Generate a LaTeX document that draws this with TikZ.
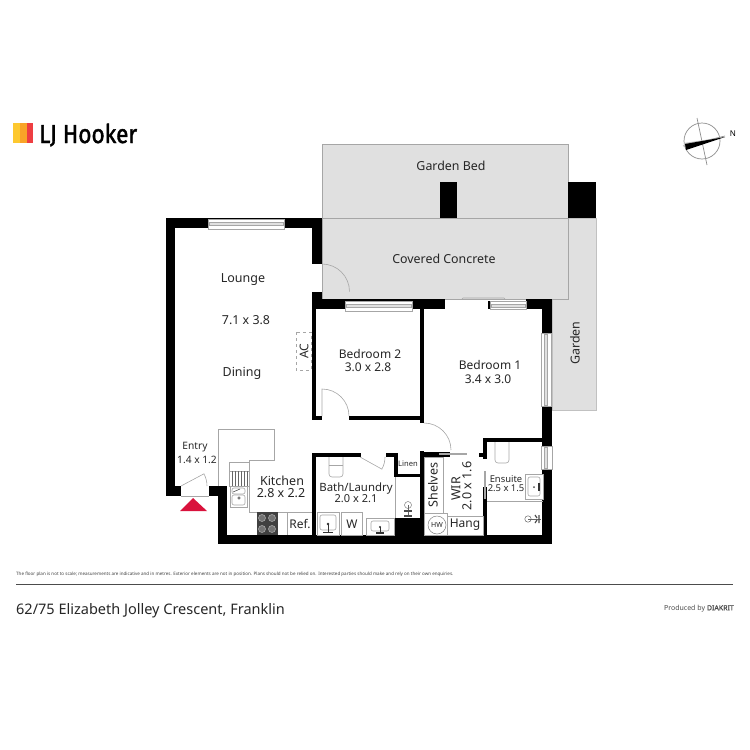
\documentclass[tikz,border=0pt]{standalone}
\usepackage{fontspec}
\setmainfont{Noto Sans}
\newfontfamily\logofont[FakeBold=1.6]{Fira Sans}
\newfontfamily\creditfont[FakeBold=1.2]{Noto Sans}
\definecolor{outdoor}{HTML}{E0E0E0}
\definecolor{edge}{HTML}{A6A6A6}
\definecolor{logored}{HTML}{EE3E42}
\definecolor{logoorange}{HTML}{F9A428}
\definecolor{logoyellow}{HTML}{FDC82F}
\definecolor{arrowred}{HTML}{D9123C}
\newcommand{\sz}[1]{\fontsize{#1}{#1}\selectfont}
\tikzset{
  room/.style={font=\sz{12.4},text=black!85,inner sep=0pt},
  roomb/.style={font=\sz{12},text=black!85,inner sep=0pt},
  roomc/.style={font=\sz{12.5},text=black!85,inner sep=0pt},
  roomd/.style={font=\sz{10.2},text=black!85,inner sep=0pt},
  roome/.style={font=\sz{9.4},text=black!85,inner sep=0pt},
  fixture/.style={draw=edge,line width=.6pt,fill=white},
  thin line/.style={draw=edge,line width=.6pt},
}
% horizontal and vertical window: x1 y1 x2 y2
\newcommand{\hwin}[4]{%
  \draw[fixture] (#1,#2) rectangle (#3,#4);
  \draw[draw=edge,fill=outdoor,line width=.4pt] (#1+1,#2+3) rectangle (#3-1,#2+6);
}
\newcommand{\vwin}[4]{%
  \draw[fixture] (#1,#2) rectangle (#3,#4);
  \draw[draw=edge,fill=outdoor,line width=.4pt] (#1+3,#2+1) rectangle (#1+6,#4-1);
}
\newcommand{\tap}[2]{%
  \draw[draw=black!60,line width=.5pt] (#1,#2) circle (3.2);
  \draw[draw=black!60,line width=.6pt] (#1,#2) -- (#1+13,#2);
  \draw[draw=black!70,line width=1.2pt] (#1+7,#2-4) -- (#1+9,#2-1) (#1+7,#2+4) -- (#1+9,#2+1) (#1+11,#2-4) -- (#1+11,#2+4);
}
\begin{document}
\begin{tikzpicture}[x=1pt, y=-1pt]
\useasboundingbox (0,0) rectangle (750,750);

% outdoor areas
\draw[draw=edge!70,fill=outdoor,line width=.5pt] (568,218) -- (596,218) -- (596,410) -- (552,410) -- (552,299) -- (568,299) -- cycle;
\draw[draw=edge,fill=outdoor,line width=.7pt] (322,144) rectangle (568,218);
\draw[draw=edge,fill=outdoor,line width=.7pt] (322,218) rectangle (568,299);
\draw[thin line] (462,299) -- (463,298) -- (504,298) -- (505,299);

% walls
\foreach \xa/\ya/\xb/\yb in {166/218/322/228, 166/218/175/496, 166/486/181/496, 312/218/322/264,
    312/292/322/309, 312/299/445/309, 312/292/316/420, 312/416/322/420, 349/416/424/420,
    420/299/424/423, 488/301/490/309, 526/299/552/309, 542/299/552/544, 209/486/227/496,
    218/486/227/544, 218/535/552/544, 312/453/316/535, 312/453/361/457, 386/453/398/457,
    394/453/398/477, 394/474/420/477, 394/518/420/535, 420/451/424/535, 420/452/450/457,
    479/453/483/457, 483/438/487/459, 483/438/543/442, 483/487/487/535,
    440/182/457/218, 568/182/596/218}
  \fill[black] (\xa,\ya) rectangle (\xb,\yb);

% windows
\hwin{208}{219}{284}{229}
\hwin{345}{301}{412}{311}
\hwin{490}{301}{526}{309}
\vwin{541}{333}{551}{406}
\vwin{541}{446}{552}{469}

% doors
\draw[thin line] (322,264) arc (270:360:27.5);
\draw[thin line] (322,416) -- (322,389) arc (270:360:27);
\draw[thin line] (424,423) arc (270:360:27);
\draw[thin line] (181,486) -- ++(-28:26) arc (-28:0:26);
\draw[thin line] (181,496) -- (209,496);
\draw[thin line] (360,457) -- ++(29:25) arc (29:0:25);
\draw[edge,line width=1.2pt] (439,454) -- (467,454);
\draw[edge,line width=1.2pt] (485,471) -- (485,499);

% entry arrow
\fill[arrowred] (180,511) -- (193,498) -- (207,511) -- cycle;

% kitchen
\draw[thin line] (218,486) -- (218,429) -- (274,429) -- (274,460) -- (249,460) -- (249,512) -- (312,512);
\draw[fixture] (229,462) rectangle (249,471);
\draw[fixture] (229,471) rectangle (249,486);
\foreach \x in {232,235,...,247}
  \draw[black!60,line width=.5pt] (\x,471) -- (\x,486);
\draw[fixture] (230,486) rectangle (247,507);
\draw[thin line,rounded corners=2pt] (232,488) rectangle (245,494);
\draw[thin line,rounded corners=2pt] (232,495) rectangle (245,505);
\draw[black!70,line width=.5pt] (239,498) circle (1.3);
\draw[black!70,line width=.6pt] (233,492) -- (240,489);
\fill[black!75] (257,512) rectangle (278,535);
\foreach \cx/\cy in {262/518, 272/518, 262/529, 272/529}
  \draw[black!35,fill=black!55,line width=.6pt] (\cx,\cy) circle (3.5);
\draw[thin line] (287,512) -- (287,535);

% bath and laundry
\draw[thin line,rounded corners=3pt] (329,457) -- (329,477) -- (343,477) -- (343,457);
\draw[thin line] (329,465) -- (343,465);
\draw[fixture] (317,512) rectangle (339,535);
\draw[thin line,rounded corners=2pt] (320,515) rectangle (336,530);
\fill[black!80] (328,524) circle (1.3);
\draw[black!80,line width=.6pt] (328,524) -- (328,532);
\draw[black!80,line width=1pt] (323,532) -- (333,532);
\draw[fixture] (341,512) rectangle (362,535);
\draw[fixture] (366,518) rectangle (394,535);
\draw[thin line,rounded corners=2pt] (371,521) rectangle (389,531);
\fill[black!80] (380,527) circle (1.2);
\draw[black!80,line width=.6pt] (380,527) -- (380,533);
\draw[black!80,line width=1.2pt] (376,533) -- (384,533);
\draw[thin line] (395,477) -- (395,518);
\draw[draw=black!50,line width=.5pt] (408,505) circle (3.5);
\draw[draw=black!60,line width=.7pt] (408,505) -- (408,517);
\draw[draw=black!70,line width=1.2pt] (404,511) -- (412,511) (404,516) -- (412,516);

% wir
\draw[fixture] (424,457) rectangle (443,513);
\draw[thin line] (424,513) rectangle (447,535);
\draw[fixture] (447,516) rectangle (483,535);
\draw[black!50,line width=.5pt] (437,525) circle (9);

% ensuite
\draw[thin line,rounded corners=3pt] (495,442) -- (495,463) -- (509,463) -- (509,442);
\draw[fixture] (525,474) rectangle (543,499);
\draw[thin line,rounded corners=2pt] (528,477) rectangle (540,496);
\draw[black!80,line width=1.1pt] (539,483) -- (539,491);
\fill[black!70] (534,487) circle (1);
\draw[thin line] (487,501) -- (543,501);
\tap{528}{519}

% ac unit
\draw[edge,dashed,line width=.6pt] (296,332) rectangle (311,370);
\node[roomb,rotate=90] (ac) at (304,351) {AC};

% room labels
\node[room] (gardenbed) at (451,165.5) {Garden Bed};
\node[room] (concrete) at (444,259) {Covered Concrete};
\node[room,rotate=90] (garden) at (575,343) {Garden};
\node[roomc] (lounge) at (243,280) {Lounge};
\node[room] (loungesize) at (246,320.5) {7.1 x 3.8};
\node[roomc] (dining) at (242,373) {Dining};
\node[roomb] (bedtwo) at (370,354) {Bedroom 2};
\node[roomb] (bedtwosize) at (368,367) {3.0 x 2.8};
\node[roomb] (bedone) at (490,365) {Bedroom 1};
\node[roomb] (bedonesize) at (488,379) {3.4 x 3.0};
\node[roomd] (entry) at (195,447.5) {Entry};
\node[roomd] (entrysize) at (197,460) {1.4 x 1.2};
\node[roomc] (kitchen) at (282,480.5) {Kitchen};
\node[roomc] (kitchensize) at (281,493) {2.8 x 2.2};
\node[font=\sz{11.4},text=black!85,inner sep=0pt] (bath) at (356,488.5) {Bath/Laundry};
\node[font=\sz{11},text=black!85,inner sep=0pt] (bathsize) at (356,498.5) {2.0 x 2.1};
\node[roomb] (ref) at (300,524) {Ref.};
\node[roomb] (washer) at (352,524) {W};
\node[font=\sz{7.6},text=black!85,inner sep=0pt] (linen) at (408,464) {Linen};
\node[roomc,rotate=90] (shelves) at (433,485) {Shelves};
\node[roomc,rotate=90] (wir) at (456,489) {WIR};
\node[roomc,rotate=90] (wirsize) at (467,486) {2.0 x 1.6};
\node[font=\sz{7},text=black!85,inner sep=0pt] (hw) at (437,525) {HW};
\node[roomb] (hang) at (465,525) {Hang};
\node[roome] (ensuite) at (506,479) {Ensuite};
\node[roome] (ensuitesize) at (506,488) {2.5 x 1.5};

% logo
\fill[logoyellow] (13,123) rectangle (20,143);
\fill[logoorange] (20,123) rectangle (26.5,143);
\fill[logored] (26.5,123) rectangle (33,143);
\node[inner sep=0pt,anchor=base west,font=\logofont\sz{26}] (logo) at (39,143) {\scalebox{.87}[1]{LJ Hooker}};

% compass
\draw[black!45,line width=.7pt] (702,141) circle (18);
\draw[black!45,line width=.7pt] (697,118) -- (707,165);
\draw[black!45,line width=.7pt] (683,146) -- (725,136);
\fill[black!25] (725,137) -- (684,143) -- (684,147) -- cycle;
\fill[black] (725,137) -- (685,144) -- (686,150) -- cycle;
\node[inner sep=0pt,font=\sz{8}] (north) at (733,134) {N};

% footer
\node[inner sep=0pt,anchor=west,text=black!75,font=\sz{4.53}] (disclaimer) at (16,574)
  {The floor plan is not to scale; measurements are indicative and in metres. Exterior elements are not in position. Plans should not be relied on. Interested parties should make and rely on their own enquiries.};
\coordinate (rulea) at (16,584.5);
\coordinate (ruleb) at (733,584.5);
\draw[black!70,line width=.8pt] (rulea) -- (ruleb);
\node[inner sep=0pt,anchor=west,text=black!85,font=\sz{14.5}] (address) at (16,610.5) {62/75 Elizabeth Jolley Crescent, Franklin};
\node[inner sep=0pt,anchor=east,text=black!70,font=\sz{7}] (credit) at (734,608.5) {Produced by {\creditfont DIAKRIT}};

\end{tikzpicture}
\end{document}
